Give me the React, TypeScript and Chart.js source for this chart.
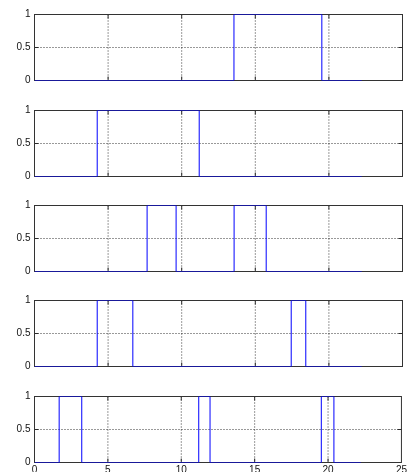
import React, { useEffect, useRef } from "react";
import { Chart, registerables } from "chart.js";

Chart.register(...registerables);

// ---- data ----
const xTicks = [0, 5, 10, 15, 20, 25];
const yTicks = [0, 0.5, 1];
const timeStart = 0;
const timeEnd = 22.23;

// switching instants (x) and the level taken at each instant (y)
const edges1 = [13.55, 19.52];
const levels1 = [1, 0];
const edges2 = [4.26, 11.19];
const levels2 = [1, 0];
const edges3 = [7.65, 9.62, 13.56, 15.74];
const levels3 = [1, 0, 1, 0];
const edges4 = [4.26, 6.68, 17.44, 18.43];
const levels4 = [1, 0, 1, 0];
const edges5 = [1.68, 3.22, 11.19, 11.96, 19.54, 20.4];
const levels5 = [1, 0, 1, 0, 1, 0];

const seriesList = [
  { edges: edges1, levels: levels1 },
  { edges: edges2, levels: levels2 },
  { edges: edges3, levels: levels3 },
  { edges: edges4, levels: levels4 },
  { edges: edges5, levels: levels5 },
];

// ---- layout ----
const W = 409;
const PAGE_H = 472;
const TOPS = [14, 110, 205, 300, 396];
const PLOT_H = 66;
const CANVAS_H = 90;
const PAD_TOP = 10.5;
const LEFT_W = 34.5;
const PAD_RIGHT = 6.5;
const FONT = { family: "'Liberation Sans', Arial, Helvetica, sans-serif", size: 10 };

const matlabAxes = {
  id: "matlabAxes",
  beforeDatasetsDraw(chart: any) {
    const { ctx, chartArea: a } = chart;
    const xs = chart.scales.x;
    const ys = chart.scales.y;
    ctx.save();
    ctx.lineWidth = 1;
    // dotted grid
    ctx.strokeStyle = "rgba(0,0,0,0.8)";
    ctx.setLineDash([1, 2]);
    xTicks.slice(1, -1).forEach((v) => {
      const px = xs.getPixelForValue(v);
      ctx.beginPath();
      ctx.moveTo(px, a.top);
      ctx.lineTo(px, a.bottom);
      ctx.stroke();
    });
    yTicks.slice(1, -1).forEach((v) => {
      const py = ys.getPixelForValue(v);
      ctx.beginPath();
      ctx.moveTo(a.left, py);
      ctx.lineTo(a.right, py);
      ctx.stroke();
    });
    ctx.setLineDash([]);
    // inward ticks
    ctx.strokeStyle = "#2a2a2a";
    const tl = 4;
    xTicks.slice(1, -1).forEach((v) => {
      const px = xs.getPixelForValue(v);
      ctx.beginPath();
      ctx.moveTo(px, a.bottom);
      ctx.lineTo(px, a.bottom - tl);
      ctx.moveTo(px, a.top);
      ctx.lineTo(px, a.top + tl);
      ctx.stroke();
    });
    yTicks.slice(1, -1).forEach((v) => {
      const py = ys.getPixelForValue(v);
      ctx.beginPath();
      ctx.moveTo(a.left, py);
      ctx.lineTo(a.left + tl, py);
      ctx.moveTo(a.right, py);
      ctx.lineTo(a.right - tl, py);
      ctx.stroke();
    });
    // box
    ctx.strokeStyle = "#333333";
    ctx.strokeRect(a.left, a.top, a.right - a.left, a.bottom - a.top);
    ctx.restore();
  },
};

function SubPlot({ index }: { index: number }) {
  const ref = useRef<HTMLCanvasElement | null>(null);
  useEffect(() => {
    if (!ref.current) return;
    const s = seriesList[index];
    const isLast = index === seriesList.length - 1;
    const points = [
      { x: timeStart, y: 0 },
      ...s.edges.map((e, i) => ({ x: e, y: s.levels[i] })),
      { x: timeEnd, y: 0 },
    ];
    const chart = new Chart(ref.current, {
      type: "line",
      data: {
        datasets: [
          {
            data: points,
            borderColor: "#0000ff",
            borderWidth: 1,
            pointRadius: 0,
            stepped: "before",
            fill: false,
          },
        ],
      },
      options: {
        animation: false,
        responsive: false,
        maintainAspectRatio: false,
        devicePixelRatio: 1,
        layout: { padding: { top: PAD_TOP, right: PAD_RIGHT, left: 0, bottom: 0 } },
        plugins: { legend: { display: false }, tooltip: { enabled: false } },
        events: [],
        scales: {
          x: {
            type: "linear",
            min: 0,
            max: 25,
            grid: { display: false, drawTicks: false, tickLength: 0 },
            border: { display: false },
            afterBuildTicks: (sc: any) => {
              sc.ticks = xTicks.map((v) => ({ value: v }));
            },
            ticks: {
              display: isLast,
              autoSkip: false,
              maxRotation: 0,
              padding: 2,
              color: "#111",
              font: FONT,
              callback: (v: any) => String(v),
            },
            afterFit: (sc: any) => {
              sc.height = CANVAS_H - PAD_TOP - PLOT_H;
            },
          },
          y: {
            type: "linear",
            min: 0,
            max: 1,
            grid: { display: false, drawTicks: false, tickLength: 0 },
            border: { display: false },
            afterBuildTicks: (sc: any) => {
              sc.ticks = yTicks.map((v) => ({ value: v }));
            },
            ticks: {
              autoSkip: false,
              padding: 4,
              color: "#111",
              font: FONT,
              callback: (v: any) => String(v),
            },
            afterFit: (sc: any) => {
              sc.width = LEFT_W;
            },
          },
        },
      } as any,
      plugins: [matlabAxes],
    });
    return () => chart.destroy();
  }, [index]);
  return (
    <canvas
      ref={ref}
      width={W}
      height={CANVAS_H}
      style={{ position: "absolute", left: 0, top: TOPS[index] - 10, width: W, height: CANVAS_H, display: "block" }}
    />
  );
}

export default function App() {
  return (
    <div
      style={{
        position: "fixed",
        left: 0,
        top: 0,
        width: W,
        height: PAGE_H,
        overflow: "hidden",
        background: "#ffffff",
      }}
    >
      {seriesList.map((_, i) => (
        <SubPlot key={i} index={i} />
      ))}
    </div>
  );
}
